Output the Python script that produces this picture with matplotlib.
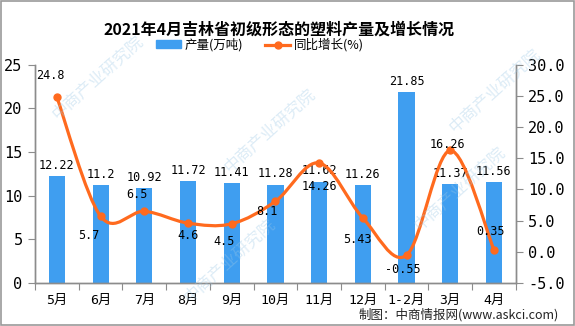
import matplotlib.pyplot as plt
from matplotlib.path import Path
from matplotlib.patches import PathPatch, Rectangle
from matplotlib.lines import Line2D
from matplotlib.ticker import FormatStrFormatter, FixedLocator

plt.rcParams['font.family'] = ['DejaVu Sans', 'Noto Sans CJK SC']

months = ['5月', '6月', '7月', '8月', '9月', '10月', '11月', '12月', '1-2月', '3月', '4月']
output = [12.22, 11.2, 10.92, 11.72, 11.41, 11.28, 11.62, 11.26, 21.85, 11.37, 11.56]
growth = [24.8, 5.7, 6.5, 4.6, 4.5, 8.1, 14.26, 5.43, -0.55, 16.26, 0.35]

# where each growth label sits relative to its point (pixels)
label_offsets = [(-7, 22), (-12, -19), (-7, 17), (0, -12), (-8, -18), (-8, -10),
                 (0, -24), (-5, -22), (-4, -14), (-3, 6), (-3, 18)]

bar_color = '#3f9ef0'
line_color = '#ff6a1e'
axis_color = '#8c8c8c'
num_font = ['DejaVu Sans Mono', 'Noto Sans CJK SC']

fig = plt.figure(figsize=(5.75, 3.26), dpi=100)
ax = fig.add_axes([0.061, 0.132, 0.836, 0.669])
ax2 = ax.twinx()

x = list(range(len(months)))
bars = ax.bar(x, output, width=0.37, color=bar_color, zorder=2)
ax.bar_label(bars, labels=['%g' % v for v in output], padding=3,
             fontsize=8.5, family=num_font)

# smoothed growth line (cubic Bezier through each point)
verts = [(x[0], growth[0])]
codes = [Path.MOVETO]
n = len(x)
for i in range(n - 1):
    p0 = (x[max(i - 1, 0)], growth[max(i - 1, 0)])
    p1 = (x[i], growth[i])
    p2 = (x[i + 1], growth[i + 1])
    p3 = (x[min(i + 2, n - 1)], growth[min(i + 2, n - 1)])
    c1 = (p1[0] + (p2[0] - p0[0]) / 6, p1[1] + (p2[1] - p0[1]) / 6)
    c2 = (p2[0] - (p3[0] - p1[0]) / 6, p2[1] - (p3[1] - p1[1]) / 6)
    verts += [c1, c2, p2]
    codes += [Path.CURVE4] * 3
ax2.add_patch(PathPatch(Path(verts, codes), facecolor='none', edgecolor=line_color,
                        lw=2.3, capstyle='round', joinstyle='round', zorder=3))
ax2.plot(x, growth, 'o', color=line_color, ms=5, zorder=4)

for xi, g, (dx, dy) in zip(x, growth, label_offsets):
    ax2.annotate('%g' % g, (xi, g), xytext=(dx, dy), textcoords='offset pixels',
                 ha='center', va='center', fontsize=8.5, family=num_font, zorder=5)

ax.set_xlim(-0.5, len(months) - 0.5)
ax.set_ylim(0, 25)
ax.set_yticks(range(0, 26, 5))
ax2.set_ylim(-5, 30)
ax2.set_yticks(range(-5, 31, 5))
ax2.yaxis.set_major_formatter(FormatStrFormatter('%.1f'))

ax.xaxis.set_major_locator(FixedLocator([i - 0.5 for i in range(len(months) + 1)]))
ax.xaxis.set_minor_locator(FixedLocator(x))
ax.set_xticklabels([], minor=False)
ax.set_xticklabels(months, minor=True)
ax.tick_params(axis='x', which='major', length=5, color=axis_color)
ax.tick_params(axis='x', which='minor', length=0, pad=8, labelsize=9.5)
ax.tick_params(axis='y', length=5, color=axis_color, labelsize=11, pad=4)
ax2.tick_params(axis='y', length=5, color=axis_color, labelsize=11, pad=4)
for lab in ax.get_yticklabels() + ax2.get_yticklabels() + ax.get_xticklabels(minor=True):
    lab.set_family(num_font)

for a in (ax, ax2):
    a.spines['top'].set_visible(False)
    for s in ('left', 'right', 'bottom'):
        a.spines[s].set_color(axis_color)
        a.spines[s].set_linewidth(1.0)

fig.text(0.485, 0.908, '2021年4月吉林省初级形态的塑料产量及增长情况',
         ha='center', va='center', fontsize=11.5, fontweight='bold',
         family=['Noto Sans CJK SC'])

handles = [Rectangle((0, 0), 1, 1, color=bar_color),
           Line2D([], [], color=line_color, lw=2.3, marker='o', ms=5)]
fig.legend(handles, ['产量(万吨)', '同比增长(%)'], loc='center', ncol=2,
           bbox_to_anchor=(0.452, 0.862), frameon=False,
           handlelength=2.0, handleheight=0.6, handletextpad=0.3, columnspacing=1.8,
           prop={'family': ['Noto Sans CJK SC'], 'size': 9})

# faint watermark
for wx, wy in [(0.17, 0.76), (0.47, 0.60), (0.40, 0.20), (0.80, 0.42), (0.86, 0.72)]:
    fig.text(wx, wy, '中商产业研究院', rotation=42, ha='center', va='center',
             fontsize=12, color='#9cc8e6', alpha=0.35, family=['Noto Sans CJK SC'],
             zorder=0)

fig.text(0.623, 0.036, '制图：中商情报网(www.askci.com)', ha='left', va='center',
         fontsize=9, color='#222222', family=['Noto Sans CJK SC'])

fig.patches.append(Rectangle((0.001, 0.002), 0.997, 0.995, transform=fig.transFigure,
                             fill=False, edgecolor='#999999', lw=1.2))

fig.savefig('out.png', dpi=100)
